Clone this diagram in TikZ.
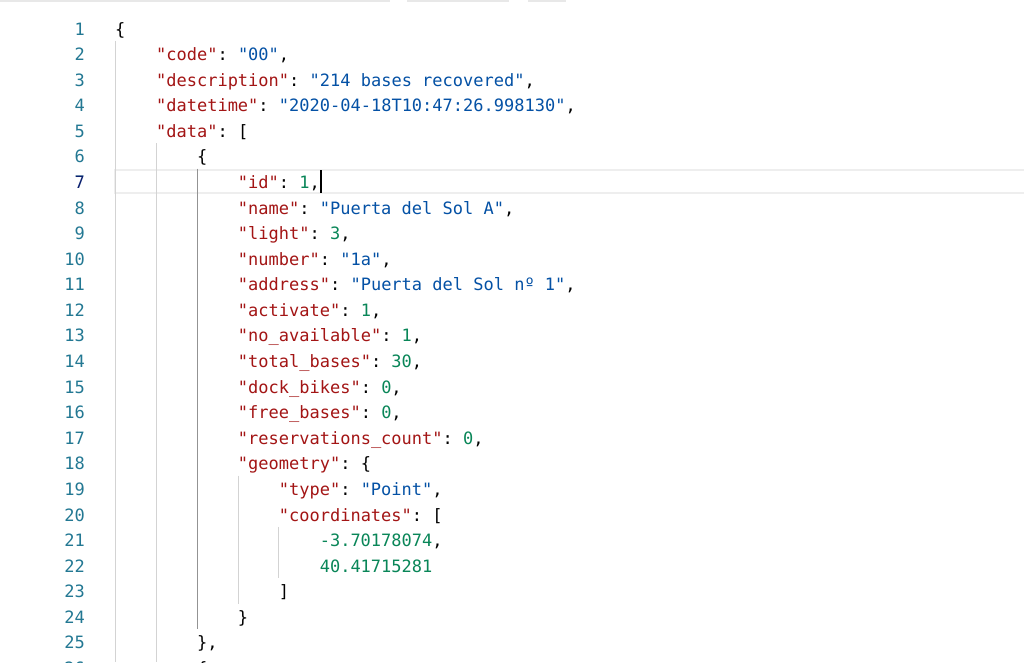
\documentclass[tikz,border=0pt]{standalone}
\usepackage{fontspec}
\setmonofont{DejaVu Sans Mono}
\definecolor{jsonkey}{HTML}{A31515}
\definecolor{jsonstr}{HTML}{0451A5}
\definecolor{jsonnum}{HTML}{098658}
\definecolor{lineno}{HTML}{237893}
\definecolor{linenoact}{HTML}{0B216F}
\definecolor{guide}{HTML}{D3D3D3}
\definecolor{guideact}{HTML}{939393}
\definecolor{curline}{HTML}{EEEEEE}
\newcommand{\jkey}[1]{\textcolor{jsonkey}{"#1"}}
\newcommand{\jstr}[1]{\textcolor{jsonstr}{"#1"}}
\newcommand{\jnum}[1]{\textcolor{jsonnum}{#1}}
\def\codeline(#1:#2)#3{\node[code] (l#1) at ({\xcode+4*\cw*#2},{\ybase+(#1-1)*\lh}) {#3};}

\begin{document}
\begin{tikzpicture}[x=1pt,y=-1pt,
    code/.style={anchor=base west,inner sep=0pt,font=\ttfamily\fontsize{17}{20}\selectfont},
    lnum/.style={anchor=base east,inner sep=0pt,text=lineno,font=\ttfamily\fontsize{17}{20}\selectfont}]
			%%%%% START %%%%%
			\def\lh{25.58}
			\def\cw{10.23}
			\def\xcode{115}
			\def\ybase{35}
			\def\ytop{15.2}
			\def\xnum{85}
			
			\useasboundingbox (0,0) rectangle (1024,662);
			\clip (0,0) rectangle (1024,662);
			\fill[white] (0,0) rectangle (1024,662);
			
			% tab strips at the top
			\fill[gray!18] (0,0) rectangle (390,2);
			\fill[gray!18] (407,0) rectangle (509,2);
			\fill[gray!18] (528,0) rectangle (566,2);
			
			% current line
			\draw[curline,line width=2pt] (\xcode,169.5) rectangle (1030,193);
			
			% indent guides
			\draw[guide] (\xcode,\ytop+\lh) -- (\xcode,662);
			\draw[guide] (\xcode+4*\cw,\ytop+5*\lh) -- (\xcode+4*\cw,662);
			\draw[guideact] (\xcode+8*\cw,\ytop+6*\lh) -- (\xcode+8*\cw,\ytop+24*\lh);
			\draw[guide] (\xcode+12*\cw,\ytop+18*\lh) -- (\xcode+12*\cw,\ytop+23*\lh);
			\draw[guide] (\xcode+16*\cw,\ytop+20*\lh) -- (\xcode+16*\cw,\ytop+22*\lh);
			
			% line numbers
			\foreach \n in {1,...,26}
				\node[lnum] (n\n) at (\xnum,{\ybase+(\n-1)*\lh}) {\n};
			\node[lnum,text=linenoact,fill=white] (n7) at (\xnum,{\ybase+6*\lh}) {7};
			
			% code
			\codeline(1:0){\{}
			\codeline(2:1){\jkey{code}: \jstr{00},}
			\codeline(3:1){\jkey{description}: \jstr{214 bases recovered},}
			\codeline(4:1){\jkey{datetime}: \jstr{2020-04-18T10:47:26.998130},}
			\codeline(5:1){\jkey{data}: [}
			\codeline(6:2){\{}
			\codeline(7:3){\jkey{id}: \jnum{1},}
			\codeline(8:3){\jkey{name}: \jstr{Puerta del Sol A},}
			\codeline(9:3){\jkey{light}: \jnum{3},}
			\codeline(10:3){\jkey{number}: \jstr{1a},}
			\codeline(11:3){\jkey{address}: \jstr{Puerta del Sol nº 1},}
			\codeline(12:3){\jkey{activate}: \jnum{1},}
			\codeline(13:3){\jkey{no\_available}: \jnum{1},}
			\codeline(14:3){\jkey{total\_bases}: \jnum{30},}
			\codeline(15:3){\jkey{dock\_bikes}: \jnum{0},}
			\codeline(16:3){\jkey{free\_bases}: \jnum{0},}
			\codeline(17:3){\jkey{reservations\_count}: \jnum{0},}
			\codeline(18:3){\jkey{geometry}: \{}
			\codeline(19:4){\jkey{type}: \jstr{Point},}
			\codeline(20:4){\jkey{coordinates}: [}
			\codeline(21:5){\jnum{-3.70178074},}
			\codeline(22:5){\jnum{40.41715281}}
			\codeline(23:4){]}
			\codeline(24:3){\}}
			\codeline(25:2){\},}
			\codeline(26:2){\{}
			
			% cursor
			\coordinate (cur) at ([xshift=1pt]l7.east |- 0,170);
			\draw[black,line width=2pt] (cur) -- ++(0,23);
			%%%%% END %%%%%
\end{tikzpicture}
\end{document}
